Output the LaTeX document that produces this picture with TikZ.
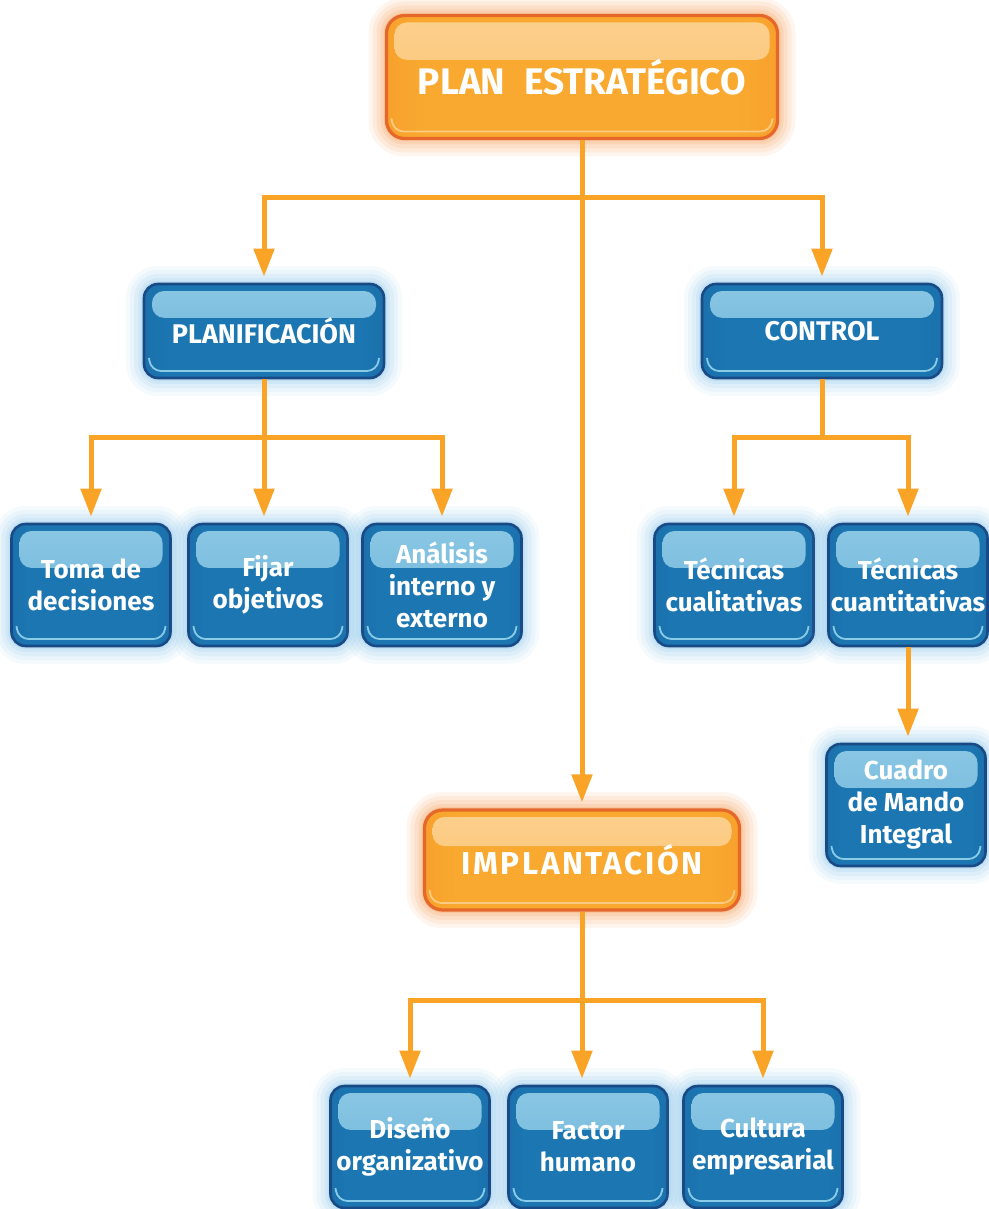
\documentclass[tikz,border=0pt]{standalone}
\usepackage{fontspec}
\setmainfont{Fira Sans}
\usetikzlibrary{arrows.meta,calc}

\definecolor{boxblue}{HTML}{1B76B1}
\definecolor{darkblue}{HTML}{1A5592}
\definecolor{edgeblue}{HTML}{1A4A86}
\definecolor{liteblue}{HTML}{8ACBE8}
\definecolor{glowblue}{HTML}{4FA8DE}
\definecolor{boxorange}{HTML}{F9A92F}
\definecolor{darkorange}{HTML}{EE7B22}
\definecolor{edgeorange}{HTML}{E5672A}
\definecolor{liteorange}{HTML}{FCCB83}
\definecolor{gloworange}{HTML}{F39040}
\definecolor{linkorange}{HTML}{F9A427}

\pgfdeclarehorizontalshading{bluefill}{100bp}{color(0bp)=(darkblue); color(30bp)=(boxblue); color(70bp)=(boxblue); color(100bp)=(darkblue)}
\pgfdeclarehorizontalshading{orangefill}{100bp}{color(0bp)=(darkorange); color(30bp)=(boxorange); color(70bp)=(boxorange); color(100bp)=(darkorange)}
\pgfdeclareverticalshading{bluegloss}{100bp}{color(0bp)=(boxblue!45!liteblue); color(100bp)=(liteblue!85!white)}
\pgfdeclareverticalshading{orangegloss}{100bp}{color(0bp)=(boxorange!40!liteorange); color(100bp)=(liteorange!80!white)}

\newcommand\headfont{\bfseries\fontsize{18.5}{22}\selectfont}
\newcommand\implfont{\bfseries\fontsize{15.8}{19}\selectfont\addfontfeature{LetterSpace=8}}
\newcommand\mainfont{\bfseries\fontsize{13.5}{16}\selectfont}
\newcommand\itemfont{\bfseries\fontsize{13}{16}\selectfont}

% glossy top band and light bottom rim
\newcommand\glossband[2]{%
  \shade[shading=#1,rounded corners=6pt]
    ($(path picture bounding box.north west)+(4pt,-3.5pt)$) rectangle
    ($(path picture bounding box.north east)!.36!(path picture bounding box.south east)+(-4pt,0)$);
  \draw[#2,line width=.9pt,rounded corners=5pt]
    ($(path picture bounding box.south west)+(2.5pt,10pt)$) --
    ($(path picture bounding box.south west)+(3.5pt,3.5pt)$) --
    ($(path picture bounding box.south east)+(-3.5pt,3.5pt)$) --
    ($(path picture bounding box.south east)+(-2.5pt,10pt)$);}

\tikzset{
  glow/.style 2 args={
    preaction={draw=#1,draw opacity=#2*.06,line width=18pt},
    preaction={draw=#1,draw opacity=#2*.07,line width=14pt},
    preaction={draw=#1,draw opacity=#2*.08,line width=10pt},
    preaction={draw=#1,draw opacity=#2*.10,line width=6pt},
    preaction={draw=#1,draw opacity=#2*.12,line width=3pt}},
  bluebox/.style={glow={glowblue}{1},rounded corners=7pt,draw=edgeblue,line width=1.3pt,
    shade,shading=bluefill,path picture={\glossband{bluegloss}{liteblue}},
    text=white,align=center,inner sep=0pt,
    font=\itemfont,minimum width=79.5pt,minimum height=61pt},
  mainbox/.style={bluebox,font=\mainfont,minimum width=120pt,minimum height=47pt},
  headbox/.style={glow={gloworange}{1.5},rounded corners=9pt,draw=edgeorange,line width=1.6pt,
    shade,shading=orangefill,path picture={\glossband{orangegloss}{liteorange}},
    text=white,align=center,inner sep=0pt,font=#1},
  link/.style={draw=linkorange,line width=2.5pt},
  arr/.style={link,-{Triangle[width=10pt,length=14pt]},shorten >=3pt}
}

\begin{document}
\begin{tikzpicture}[x=0.5pt,y=-0.5pt]
\useasboundingbox (0,0) rectangle (989,1209);

% top level
\node[headbox=\headfont,minimum width=195.5pt,minimum height=61.5pt]
  (plan) at (582,77) {PLAN\hspace{.5em}ESTRATÉGICO};
\node[headbox=\implfont,minimum width=157.5pt,minimum height=50pt]
  (impl) at (582,860) {IMPLANTACIÓN};

% second level
\node[mainbox] (plani) at (264,331) {PLANIFICACIÓN};
\node[mainbox] (control) at (822,331) {CONTROL};

% leaves
\node[bluebox] (toma) at (91,585) {Toma de\\decisiones};
\node[bluebox] (fijar) at (268,585) {Fijar\\objetivos};
\node[bluebox] (anal) at (442,585) {Análisis\\interno y\\externo};
\node[bluebox] (cual) at (734,585) {Técnicas\\cualitativas};
\node[bluebox] (cuan) at (908,585) {Técnicas\\cuantitativas};
\node[bluebox] (cmi) at (906,805) {Cuadro\\de Mando\\Integral};
\node[bluebox] (dis) at (410,1147) {Diseño\\organizativo};
\node[bluebox] (fact) at (588,1147) {Factor\\humano};
\node[bluebox] (cult) at (763,1147) {Cultura\\empresarial};

% junctions
\coordinate (j1) at (582,198);
\coordinate (j2) at (264,437);
\coordinate (j3) at (822,437);
\coordinate (j4) at (582,1000);

% connectors
\draw[arr] (plan) -- (impl);
\draw[arr] (j1) -| (plani.north);
\draw[arr] (j1) -| (control.north);

\draw[link] (plani) -- (j2);
\draw[arr] (j2) -| (toma.north);
\draw[arr] (j2) -- (j2 |- fijar.north);
\draw[arr] (j2) -| (anal.north);

\draw[link] (control) -- (j3);
\draw[arr] (j3) -| (cual.north);
\draw[arr] (j3) -| (cuan.north);
\draw[arr] (cuan.south) -- (cuan.south |- cmi.north);

\draw[link] (impl) -- (j4);
\draw[arr] (j4) -| (dis.north);
\draw[arr] (j4) -- (j4 |- fact.north);
\draw[arr] (j4) -| (cult.north);
\end{tikzpicture}
\end{document}
